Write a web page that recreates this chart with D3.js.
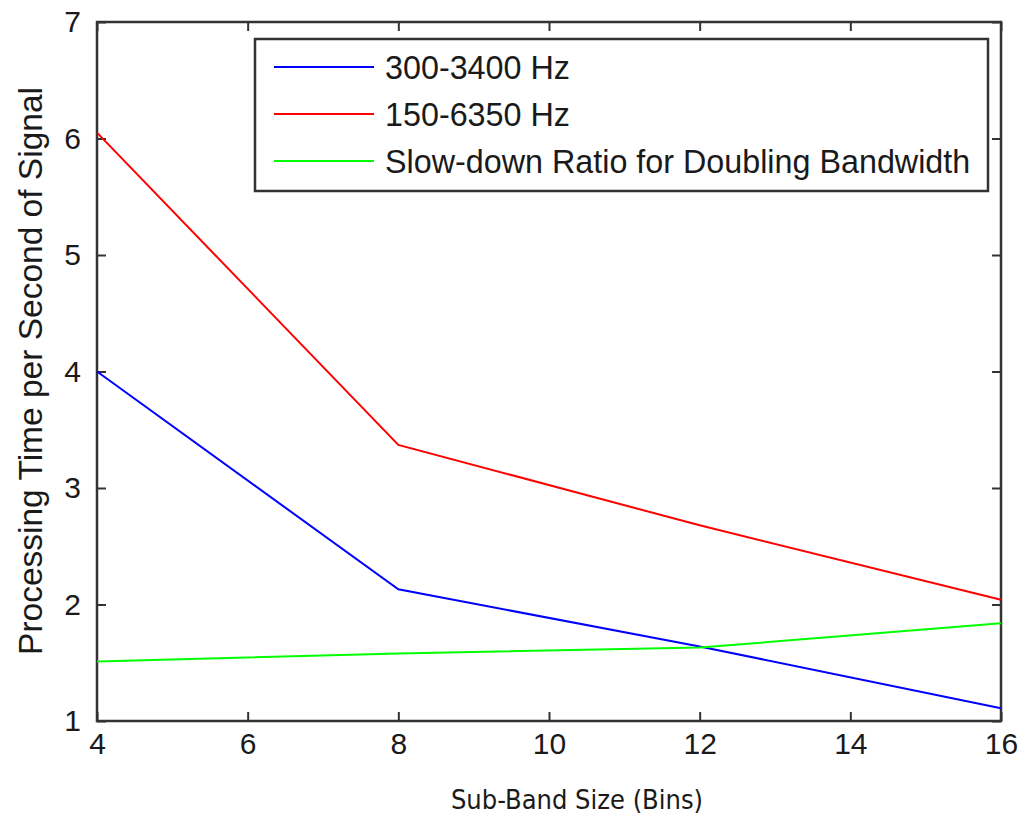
<!DOCTYPE html>
<html>
<head>
<meta charset="utf-8">
<script src="https://cdn.jsdelivr.net/npm/d3@7"></script>
<style>
  body { margin: 0; background: #fff; }
  text { font-family: "Liberation Sans", Arial, sans-serif; fill: #1a1a1a; }
</style>
</head>
<body>
<div class="chart"></div>
<script>
// data
const subBand = [4, 8, 12, 16];
const band300_3400 = [4.0, 2.13, 1.64, 1.11];
const band150_6350 = [6.05, 3.37, 2.68, 2.04];
const slowDownRatio = [1.51, 1.58, 1.63, 1.84];
const seriesNames = ["300-3400 Hz", "150-6350 Hz", "Slow-down Ratio for Doubling Bandwidth"];
const seriesColors = ["#0000ff", "#ff0000", "#00ff00"];
const xTicks = [4, 6, 8, 10, 12, 14, 16];
const yTicks = [1, 2, 3, 4, 5, 6, 7];

const W = 1023, H = 824;
const margin = { top: 22, right: 22, bottom: 103, left: 97 };
const width = W - margin.left - margin.right;
const height = H - margin.top - margin.bottom;

const svg = d3.select(".chart").append("svg")
    .attr("width", W)
    .attr("height", H)
    .append("g")
    .attr("transform", `translate(${margin.left},${margin.top})`);

const xScale = d3.scaleLinear().domain([4, 16]).range([0, width]);
const yScale = d3.scaleLinear().domain([1, 7]).range([height, 0]);

// axes: ticks pointing inwards on all four sides
const tickLen = 9;
svg.append("g")
    .attr("transform", `translate(0,${height})`)
    .call(d3.axisBottom(xScale).tickValues(xTicks).tickFormat(d3.format("d"))
        .tickSizeInner(-tickLen).tickSizeOuter(0).tickPadding(12))
    .call(g => g.selectAll("text").style("font-size", "30px").attr("dy", "0.71em"));
svg.append("g")
    .call(d3.axisTop(xScale).tickValues(xTicks).tickSizeInner(-tickLen).tickSizeOuter(0).tickFormat(""));
svg.append("g")
    .call(d3.axisLeft(yScale).tickValues(yTicks).tickFormat(d3.format("d"))
        .tickSizeInner(-tickLen).tickSizeOuter(0).tickPadding(16))
    .call(g => g.selectAll("text").style("font-size", "30px"));
svg.append("g")
    .attr("transform", `translate(${width},0)`)
    .call(d3.axisRight(yScale).tickValues(yTicks).tickSizeInner(-tickLen).tickSizeOuter(0).tickFormat(""));
svg.selectAll(".domain").remove();
svg.selectAll(".tick line").attr("stroke", "#333").attr("stroke-width", 2);

// axis box
svg.append("rect")
    .attr("width", width).attr("height", height)
    .attr("fill", "none").attr("stroke", "#333").attr("stroke-width", 2.5);

// series lines
const allSeries = [band300_3400, band150_6350, slowDownRatio];
const line = d3.line()
    .x((d, i) => xScale(subBand[i]))
    .y(d => yScale(d));
allSeries.forEach((vals, k) => {
    svg.append("path")
        .datum(vals)
        .attr("d", line)
        .attr("fill", "none")
        .attr("stroke", seriesColors[k])
        .attr("stroke-width", 2);
});

// legend
const legend = svg.append("g").attr("transform", "translate(158,17)");
legend.append("rect")
    .attr("width", 733).attr("height", 152)
    .attr("fill", "#fff").attr("stroke", "#333").attr("stroke-width", 2.5);
const rows = legend.selectAll(".lineLegend").data(seriesNames)
    .enter().append("g")
    .attr("class", "lineLegend")
    .attr("transform", (d, i) => `translate(0,${28 + i * 47})`);
rows.append("line")
    .attr("x1", 19).attr("x2", 119)
    .attr("stroke", (d, i) => seriesColors[i])
    .attr("stroke-width", 2);
rows.append("text")
    .attr("x", 130).attr("dy", "0.36em")
    .style("font-size", "32.3px")
    .text(d => d);

// axis labels
svg.append("text")
    .attr("x", width / 2 + 28)
    .attr("y", height + 88)
    .attr("text-anchor", "middle")
    .style("font-size", "27px")
    .style("font-family", "'DejaVu Sans Condensed', 'Liberation Sans', sans-serif")
    .text("Sub-Band Size (Bins)");
svg.append("text")
    .attr("transform", "rotate(-90)")
    .attr("x", -(371 - margin.top))
    .attr("y", 30 - margin.left)
    .attr("dy", "0.36em")
    .attr("text-anchor", "middle")
    .style("font-size", "33.5px")
    .text("Processing Time per Second of Signal");
</script>
</body>
</html>
